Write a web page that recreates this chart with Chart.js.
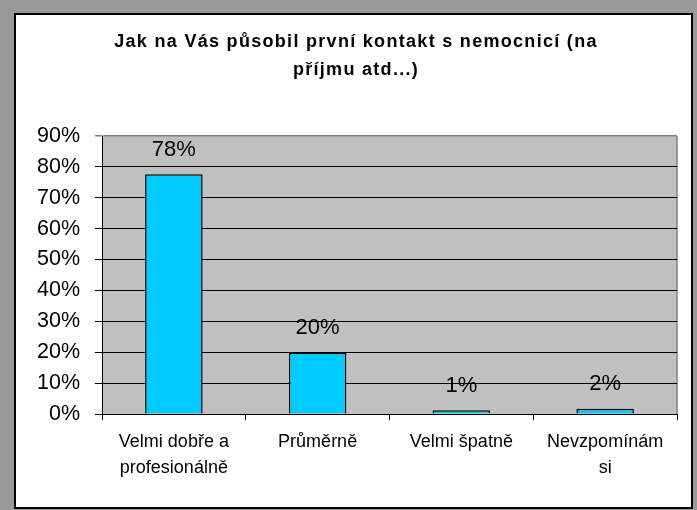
<!DOCTYPE html>
<html>
<head>
<meta charset="utf-8">
<script src="https://cdn.jsdelivr.net/npm/chart.js@4/dist/chart.umd.min.js"></script>
<style>
  html, body { margin: 0; padding: 0; }
  body { width: 697px; height: 510px; background: #999999; position: relative; overflow: hidden; }
  .frame { position: absolute; left: 14px; top: 13px; width: 675px; height: 492px; border: 2px solid #000; background: #fff; }
  #myChart { position: absolute; left: 0; top: 0; }
</style>
</head>
<body>
<div class="frame"></div>
<canvas id="myChart" width="697" height="510"></canvas>
<script>
const titleLines = ['Jak na Vás působil první kontakt s nemocnicí (na', 'příjmu atd...)'];
const categories = [['Velmi dobře a', 'profesionálně'], 'Průměrně', 'Velmi špatně', ['Nevzpomínám', 'si']];
const values = [77.6, 19.8, 1.2, 1.7];
const valueLabels = ['78%', '20%', '1%', '2%'];
const yTicks = [0, 10, 20, 30, 40, 50, 60, 70, 80, 90];

const fontFamily = '"Liberation Sans", Arial, sans-serif';

// gray plot background + right border, and the title (excel spaces letters wide)
const plotBg = {
  id: 'plotBg',
  beforeDraw(chart) {
    const a = chart.chartArea;
    const c = chart.ctx;
    c.save();
    c.fillStyle = '#C0C0C0';
    c.fillRect(a.left, a.top, a.right - a.left, a.bottom - a.top);
    c.strokeStyle = '#808080';
    c.lineWidth = 1.5;
    c.beginPath();
    c.moveTo(a.right, a.top);
    c.lineTo(a.right, a.bottom);
    c.stroke();

    c.font = 'bold 18px ' + fontFamily;
    c.letterSpacing = '1.3px';
    c.fillStyle = '#000';
    c.textAlign = 'center';
    c.textBaseline = 'alphabetic';
    titleLines.forEach((t, i) => c.fillText(t, 356, 47 + i * 28));
    c.restore();
  }
};

// value labels above the bars; also set spacing for the x labels drawn after this
const barLabels = {
  id: 'barLabels',
  afterDatasetsDraw(chart) {
    const c = chart.ctx;
    const meta = chart.getDatasetMeta(0);
    c.save();
    c.font = '22px ' + fontFamily;
    c.fillStyle = '#000';
    c.textAlign = 'center';
    c.textBaseline = 'alphabetic';
    meta.data.forEach((bar, i) => {
      c.fillText(valueLabels[i], bar.x, bar.y - 18.5);
    });
    c.restore();
    c.letterSpacing = '0.8px';
  },
  afterDraw(chart) {
    chart.ctx.letterSpacing = '0px';
  }
};

const ctx = document.getElementById('myChart').getContext('2d');
let myChart = new Chart(ctx, {
  type: 'bar',
  data: {
    labels: categories,
    datasets: [{
      data: values,
      backgroundColor: '#00CCFF',
      borderColor: '#000000',
      borderWidth: 1.5,
      categoryPercentage: 0.8,
      barPercentage: 0.5
    }]
  },
  options: {
    responsive: false,
    animation: false,
    layout: { padding: { left: 16, right: 20, top: 136, bottom: 3 } },
    plugins: {
      legend: { display: false },
      tooltip: { enabled: false },
      title: { display: false }
    },
    scales: {
      x: {
        z: 1,
        grid: { drawOnChartArea: false, color: '#000', tickLength: 6 },
        border: { color: '#000', width: 1 },
        ticks: {
          color: '#000',
          padding: 9,
          maxRotation: 0,
          autoSkip: false,
          font: { family: fontFamily, size: 18, lineHeight: 26 / 18 }
        },
        afterFit(scale) { scale.height = 93; }
      },
      y: {
        min: 0,
        max: 90,
        afterBuildTicks(scale) { scale.ticks = yTicks.map(v => ({ value: v })); },
        grid: {
          color: c => (c.tick && c.tick.value === 90 ? '#808080' : '#000'),
          lineWidth: c => (c.tick && c.tick.value === 90 ? 1.5 : 1),
          tickLength: 7
        },
        border: { color: '#000', width: 1 },
        ticks: {
          color: '#000',
          padding: 15,
          font: { family: fontFamily, size: 21.5 },
          callback: v => v + '%'
        },
        afterFit(scale) { scale.width = 86; }
      }
    }
  },
  plugins: [plotBg, barLabels]
});
</script>
</body>
</html>
